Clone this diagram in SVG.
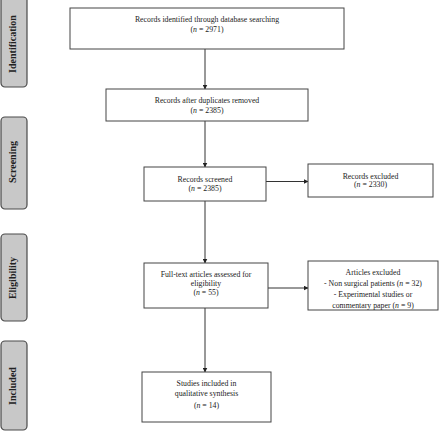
<svg xmlns="http://www.w3.org/2000/svg" width="440" height="432" viewBox="0 0 440 432">
<defs>
<style>
.box{fill:#fff;stroke:#444;stroke-width:1}
.side{fill:#c8c8c8;stroke:#4a4a4a;stroke-width:1.2}
.t{font-family:"Liberation Serif","Times New Roman",serif;font-size:7.8px;fill:#222;text-anchor:middle}
.s{font-family:"Liberation Serif","Times New Roman",serif;font-size:10px;font-weight:bold;fill:#222;text-anchor:middle}
.c{stroke:#333;stroke-width:1;fill:none;marker-end:url(#ah)}
</style>
<marker id="ah" markerWidth="5" markerHeight="5" refX="4.5" refY="2.5" orient="auto" markerUnits="userSpaceOnUse">
<path d="M0,0 L5,2.5 L0,5 Z" fill="#222"/>
</marker>
</defs>
<rect width="440" height="432" fill="#fff"/>

<g id="side-identification"><rect class="side" x="1" y="-4" width="26" height="91" rx="4"/><text class="s" transform="translate(16,44) rotate(-90)">Identification</text></g>
<g id="side-screening"><rect class="side" x="1" y="117" width="26" height="92" rx="4"/><text class="s" transform="translate(16,162) rotate(-90)">Screening</text></g>
<g id="side-eligibility"><rect class="side" x="1" y="234" width="26" height="87" rx="4"/><text class="s" transform="translate(16,278) rotate(-90)">Eligibility</text></g>
<g id="side-included"><rect class="side" x="1" y="341" width="26" height="89" rx="4"/><text class="s" transform="translate(16,386) rotate(-90)">Included</text></g>

<g id="connectors">
<line class="c" x1="205" y1="49" x2="205" y2="89"/>
<line class="c" x1="205" y1="121" x2="205" y2="167"/>
<line class="c" x1="205" y1="201" x2="205" y2="263"/>
<line class="c" x1="205" y1="308" x2="205" y2="372"/>
<line class="c" x1="266" y1="181.5" x2="308" y2="181.5"/>
<line class="c" x1="268" y1="288" x2="308" y2="288"/>
</g>

<g id="n1"><rect class="box" x="70" y="8" width="274" height="41"/>
<text class="t" x="207" y="21.5">Records identified through database searching</text>
<text class="t" x="207" y="31.5">(<tspan font-style="italic">n</tspan> = 2971)</text></g>

<g id="n2"><rect class="box" x="106" y="89" width="202" height="32"/>
<text class="t" x="207" y="102.5">Records after duplicates removed</text>
<text class="t" x="207" y="112.5">(<tspan font-style="italic">n</tspan> = 2385)</text></g>

<g id="n3"><rect class="box" x="144" y="167" width="122" height="34"/>
<text class="t" x="205" y="181.5">Records screened</text>
<text class="t" x="205" y="190.5">(<tspan font-style="italic">n</tspan> = 2385)</text></g>

<g id="n3x"><rect class="box" x="308" y="164" width="125" height="33"/>
<text class="t" x="370.5" y="178.5">Records excluded</text>
<text class="t" x="370.5" y="187">(<tspan font-style="italic">n</tspan> = 2330)</text></g>

<g id="n4"><rect class="box" x="144" y="263" width="124" height="45"/>
<text class="t" x="206" y="276.5">Full-text articles assessed for</text>
<text class="t" x="206" y="285.5">eligibility</text>
<text class="t" x="206" y="294.5">(<tspan font-style="italic">n</tspan> = 55)</text></g>

<g id="n4x"><rect class="box" x="308" y="261" width="130" height="49"/>
<text class="t" x="373" y="275">Articles excluded</text>
<text class="t" x="373" y="286">- Non surgical  patients (<tspan font-style="italic">n</tspan> = 32)</text>
<text class="t" x="373" y="296.5">- Experimental  studies or</text>
<text class="t" x="373" y="307.5">commentary paper (<tspan font-style="italic">n</tspan> = 9)</text></g>

<g id="n5"><rect class="box" x="142" y="372" width="129" height="50"/>
<text class="t" x="206.5" y="386">Studies included  in</text>
<text class="t" x="206.5" y="396">qualitative  synthesis</text>
<text class="t" x="206.5" y="407.5">(<tspan font-style="italic">n</tspan> = 14)</text></g>
</svg>
